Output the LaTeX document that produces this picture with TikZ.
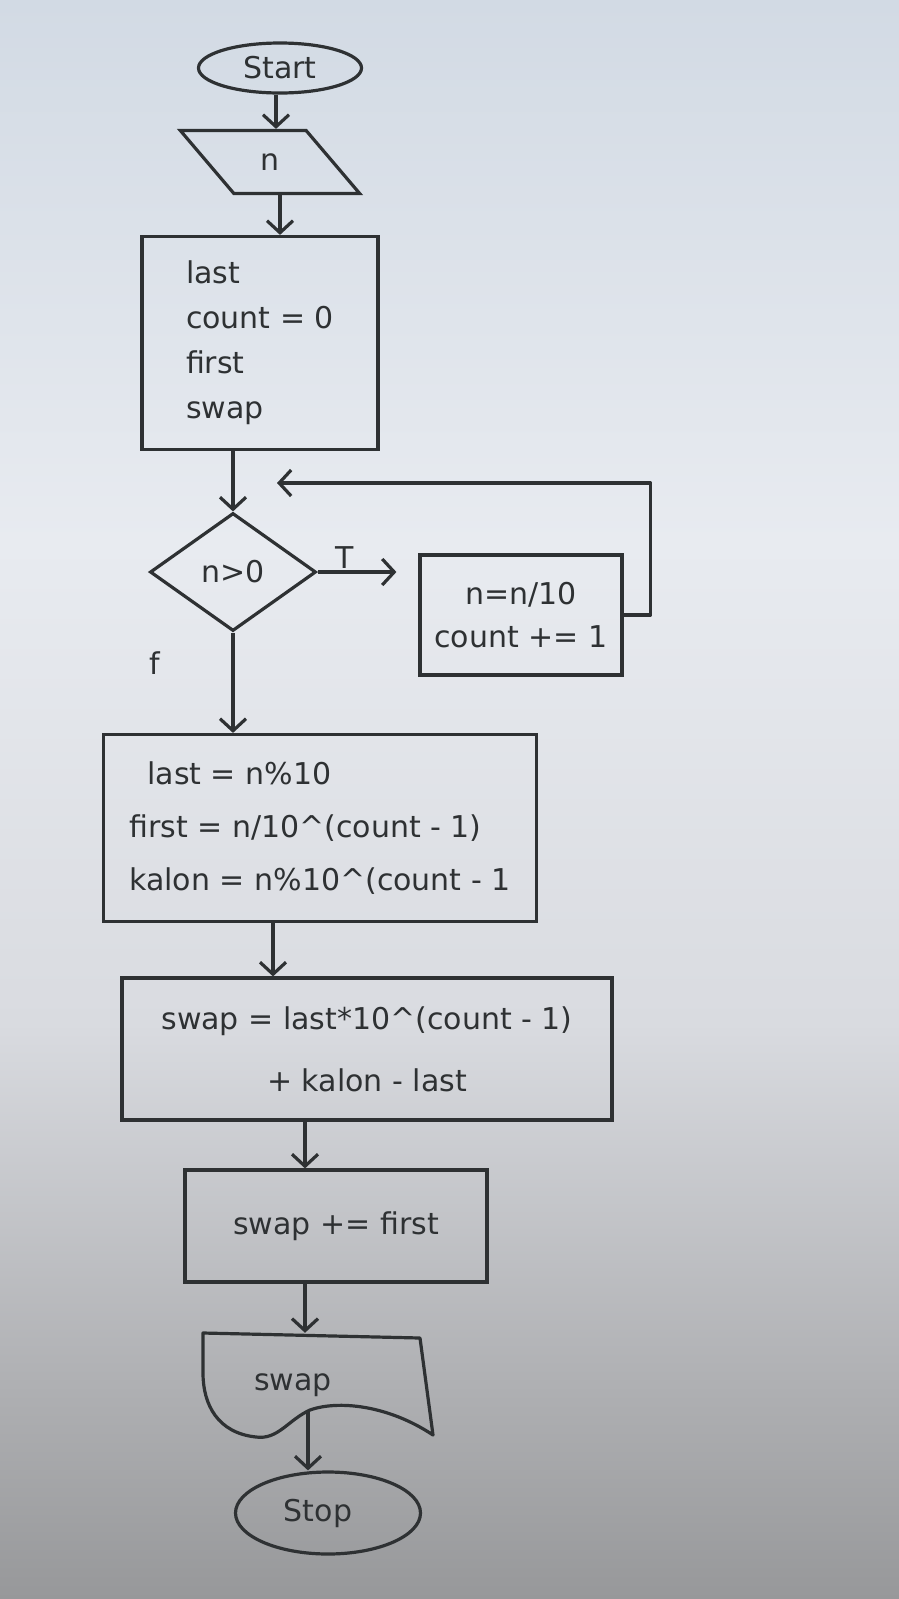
\documentclass[tikz,border=0pt]{standalone}
\usepackage{fontspec}
\setmainfont{DejaVu Sans}
\usetikzlibrary{shapes.geometric,arrows.meta,calc}
\definecolor{ink}{HTML}{2E3133}
\definecolor{papertop}{HTML}{D2DAE4}
\definecolor{papermid}{HTML}{E8EBF0}
\definecolor{paperlow}{HTML}{D9DBE0}
\definecolor{papergray}{HTML}{B0B1B4}
\definecolor{paperbot}{HTML}{97989A}
\pgfdeclareverticalshading{paper}{100bp}{color(0bp)=(paperbot); color(25bp)=(paperbot); color(32bp)=(papergray); color(43bp)=(paperlow); color(58bp)=(papermid); color(75bp)=(papertop); color(100bp)=(papertop)}
\begin{document}
\begin{tikzpicture}[x=1pt,y=-1pt,
  txt/.style={font=\fontsize{30}{45}\selectfont, text=ink},
  line/.style={draw=ink, line width=3.2pt, line join=round},
  arr/.style={line, -{Straight Barb[length=12pt,width=26pt]}},
  term/.style={txt, ellipse, draw=ink, line width=3.2pt, inner sep=0pt},
  io/.style={txt, trapezium, trapezium left angle=130, trapezium right angle=50, trapezium stretches=true, draw=ink, line width=3.2pt, inner sep=0pt},
  box/.style={txt, rectangle, draw=ink, line width=3.2pt, inner sep=0pt},
  dec/.style={txt, diamond, draw=ink, line width=3.2pt, inner sep=0pt},
  lbl/.style={txt}
]
\useasboundingbox (0,0) rectangle (899,1599);
\shade[shading=paper] (0,0) rectangle (899,1599);

% nodes
\node[term, minimum width=163pt, minimum height=50pt] (start) at (280,68) {Start};
\node[io, minimum width=180pt, minimum height=63pt] (inp) at (270,162) {n};
\node[box, minimum width=236pt, minimum height=213pt, align=left] (init) at (260,343) {last\\count = 0\\first\\swap};
\node[dec, minimum width=166pt, minimum height=118pt] (cond) at (233,572) {n>0};
\node[box, minimum width=202pt, minimum height=120pt, align=center, font=\fontsize{30}{43}\selectfont] (loop) at (521,615) {n=n/10\\count += 1};
\node[lbl] (tl) at (345,558) {T};
\node[lbl] (fl) at (155,663) {f};
\coordinate (ret) at (277,483);
\node[box, minimum width=433pt, minimum height=187pt, align=left, font=\fontsize{30}{53}\selectfont] (digits) at (320,828) {\hspace*{18pt}last = n\%10\\first = n/10\textasciicircum(count - 1)\\kalon = n\%10\textasciicircum(count - 1};
\node[box, minimum width=490pt, minimum height=142pt, align=center, font=\fontsize{30}{62}\selectfont] (swapn) at (367,1049) {swap = last*10\textasciicircum(count - 1)\\+ kalon - last};
\node[box, minimum width=302pt, minimum height=112pt] (addf) at (336,1226) {swap += first};
\node[txt, minimum width=230pt, minimum height=104pt, inner sep=0pt] (out) at (318,1385) {swap\hspace*{50pt}};
\begin{scope}[shift={(out.center)}]
\draw[line] (-115,-52) -- (102,-47) -- (115,50)
  .. controls (70,20) and (20,15) .. (-8,25)
  .. controls (-30,35) and (-40,55) .. (-62,52)
  .. controls (-100,48) and (-115,20) .. (-115,-12) -- cycle;
\end{scope}
\coordinate (outbot) at ($(out.center)+(-10,25)$);
\node[term, minimum width=185pt, minimum height=82pt] (stop) at (328,1513) {Stop\hspace*{20pt}};

% connectors
\draw[arr] (start.south -| 276,0) -- (inp.north -| 276,0);
\draw[arr] (inp.south -| 280,0) -- (init.north -| 280,0);
\draw[arr] (init.south -| cond.north) -- (cond.north);
\draw[arr, shorten >=22pt] (cond.east) -- (cond.east -| loop.west);
\draw[arr] (loop.east) -- ++(27,0) |- (ret);
\draw[arr] (cond.south) -- (cond.south |- digits.north);
\draw[arr] (digits.south -| 273,0) -- (swapn.north -| 273,0);
\draw[arr] (swapn.south -| 305,0) -- (addf.north -| 305,0);
\draw[arr] (addf.south -| 305,0) -- (out.north -| 305,0);
\draw[arr] (outbot) -- (outbot |- stop.north);
\end{tikzpicture}
\end{document}
